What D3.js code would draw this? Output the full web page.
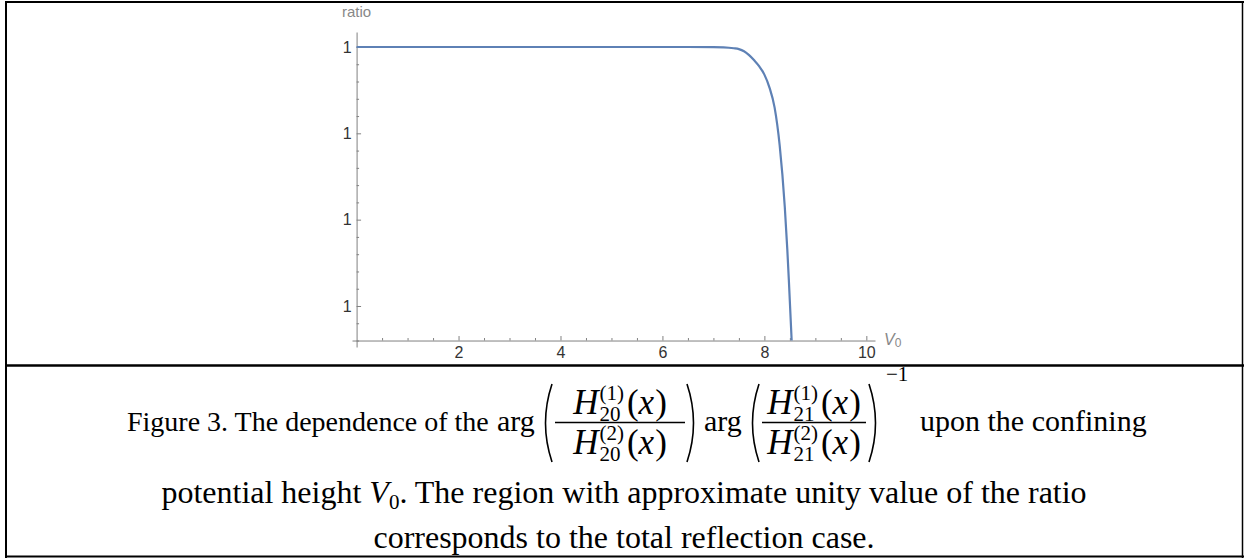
<!DOCTYPE html>
<html><head><meta charset="utf-8">
<script src="https://cdn.jsdelivr.net/npm/d3@7"></script>
<style>body{margin:0;background:#fff} svg{display:block}</style>
</head><body><svg id="c" width="1244" height="558"></svg>
<script>
// ---- data ----
const v0Values    = [0, 1, 2, 3, 4, 5, 6, 6.5, 7.0, 7.2, 7.4, 7.5, 7.6, 7.7, 7.8, 7.9, 8.0, 8.1, 8.2, 8.3, 8.4, 8.45, 8.48, 8.535];
const ratioValues = [1, 1, 1, 1, 1, 1, 1, 1, 0.9999998, 0.9999992, 0.999997, 0.999995, 0.99999, 0.999981, 0.999969, 0.999955, 0.999936, 0.999906, 0.99986, 0.999772, 0.99963, 0.99953, 0.99946, 0.99932];
const xTickValues = [2, 4, 6, 8, 10];
const xTickLabels = ["2", "4", "6", "8", "10"];
const yTickValues = [1, 0.9998, 0.9996, 0.9994];
const yTickLabels = ["1", "1", "1", "1"];
const xAxisRange  = [-0.09, 10.17];
const yAxisRange  = [0.999305, 1.0000347];
const yAxisCross  = 0.99932;
const axisLabelY  = "ratio";
const captionLine1a = "Figure 3. The dependence of the";
const captionLine1b = "upon the confining";
const captionLine2 = "potential height ";
const captionLine2b = ". The region with approximate unity value of the ratio";
const captionLine3 = "corresponds to the total reflection case.";

const svg = d3.select("#c");

// ---- frame (table borders) ----
svg.append("line").attr("x1",5).attr("x2",1244).attr("y1",2).attr("y2",2).attr("stroke","#000").attr("stroke-width",2.2);
svg.append("line").attr("x1",6).attr("x2",6).attr("y1",1).attr("y2",558).attr("stroke","#000").attr("stroke-width",2);
svg.append("line").attr("x1",1242.5).attr("x2",1242.5).attr("y1",1).attr("y2",558).attr("stroke","#000").attr("stroke-width",1.5);
svg.append("line").attr("x1",5).attr("x2",1244).attr("y1",365.5).attr("y2",365.5).attr("stroke","#000").attr("stroke-width",2.5);
svg.append("line").attr("x1",5).attr("x2",1244).attr("y1",556.5).attr("y2",556.5).attr("stroke","#000").attr("stroke-width",2.2);

// ---- scales ----
const x = d3.scaleLinear().domain(xAxisRange).range([352, 875]);
const y = d3.scaleLinear().domain(yAxisRange).range([347, 32]);
const axisColor = "#808080";
const sans = "'Liberation Sans', Arial, sans-serif";

// x axis
const gx = svg.append("g").attr("transform", `translate(0,${y(yAxisCross)})`);
gx.call(d3.axisBottom(x).tickValues(d3.range(0.5, 10.01, 0.5).filter(v => v % 2 !== 0)).tickSize(-2.5).tickSizeOuter(0).tickFormat(""));
gx.call(g => g.selectAll(".domain").attr("stroke", axisColor));
const gx2 = svg.append("g").attr("transform", `translate(0,${y(yAxisCross)})`);
gx2.call(d3.axisBottom(x).tickValues(xTickValues).tickSize(-4.5).tickSizeOuter(0).tickPadding(8)
  .tickFormat((d,i) => xTickLabels[i]));
gx2.select(".domain").remove();
gx2.selectAll("text").attr("fill","#333").style("font-family", sans).style("font-size","16px").attr("dy","0.71em").attr("y",6);

// y axis
const gy = svg.append("g").attr("transform", `translate(${x(0)},0)`);
const yMinor = d3.range(0, 20).map(i => 1 - i * 0.00004).filter(v => v >= yAxisCross - 1e-9 && !yTickValues.some(t => Math.abs(t - v) < 1e-9));
gy.call(d3.axisLeft(y).tickValues(yMinor).tickSize(-2.5).tickSizeOuter(0).tickFormat(""));
gy.select(".domain").attr("stroke", axisColor);
const gy2 = svg.append("g").attr("transform", `translate(${x(0)},0)`);
gy2.call(d3.axisLeft(y).tickValues(yTickValues).tickSize(-4.5).tickSizeOuter(0).tickPadding(5)
  .tickFormat((d,i) => yTickLabels[i]));
gy2.select(".domain").remove();
svg.selectAll(".tick line").attr("stroke", axisColor);
gy2.selectAll("text").attr("fill","#333").style("font-family", sans).style("font-size","16px").attr("x",-5);

// axis labels
svg.append("text").attr("x", x(0)).attr("y", 17).attr("text-anchor","middle").attr("fill","#888")
  .style("font-family", sans).style("font-size","15px").text(axisLabelY);
const vl = svg.append("text").attr("x", 884).attr("y", 345).attr("fill","#888")
  .style("font-family", sans).style("font-size","16px");
vl.append("tspan").style("font-style","italic").text("V");
vl.append("tspan").attr("dy", 2).style("font-size","12px").text("0");

// curve
const pts = v0Values.map((v,i) => [v, ratioValues[i]]);
svg.append("path").datum(pts)
  .attr("d", d3.line().x(d => x(d[0])).y(d => y(d[1])).curve(d3.curveMonotoneX))
  .attr("fill","none").attr("stroke","#5E81B5").attr("stroke-width",2.2);

// ---- caption ----
const serif = "'Liberation Serif', 'Times New Roman', serif";
const FS = 32, TS = 28, MS = 35, SS = 21;
const cap = svg.append("g").style("font-family", serif).attr("fill","#000");

function txt(g, str, x0, y0, size, italic) {
  const t = g.append("text").attr("x", x0).attr("y", y0).style("font-size", size + "px")
    .style("font-style", italic ? "italic" : "normal").text(str);
  return t.node().getComputedTextLength();
}
function paren(g, x0, left) {
  const top = 384, bot = 462, w = 12;
  const xa = left ? x0 + w : x0, xb = left ? x0 - 1 : x0 + w + 1;
  g.append("path").attr("d", `M${xa},${top} Q${xb},${(top+bot)/2} ${xa},${bot}`)
    .attr("fill","none").attr("stroke","#000").attr("stroke-width",1.6);
}
function hank(g, base, sup, k) {
  let cx = 0;
  cx += txt(g, "H", cx, base, MS, true) + 1;
  const w1 = txt(g, "(" + sup + ")", cx, base - 14, SS, false);
  const w2 = txt(g, "2" + k, cx, base + 7, SS, false);
  cx += Math.max(w1, w2) + 3;
  cx += txt(g, "(", cx, base, MS, false);
  cx += txt(g, "x", cx, base, MS, true) + 1;
  cx += txt(g, ")", cx, base, MS, false);
  return cx;
}
function frac(g, x0, x1, k) {
  const gn = g.append("g"), gd = g.append("g");
  const wn = hank(gn, 414, "1", k);
  const wd = hank(gd, 454, "2", k);
  gn.attr("transform", `translate(${(x0 + x1 - wn)/2},0)`);
  gd.attr("transform", `translate(${(x0 + x1 - wd)/2},0)`);
  g.append("line").attr("x1", x0).attr("x2", x1).attr("y1", 422.5).attr("y2", 422.5).attr("stroke","#000").attr("stroke-width",1.4);
}
const base1 = 431;
txt(cap, captionLine1a, 127, base1, TS, false);
txt(cap, "arg", 497, base1, 30, false);
paren(cap, 540, true);
frac(cap, 555, 685, "0");
paren(cap, 687, false);
txt(cap, "arg", 704, base1, 30, false);
paren(cap, 747, true);
frac(cap, 762, 866, "1");
paren(cap, 869, false);
txt(cap, "\u22121", 886, 381, SS, false);
txt(cap, captionLine1b, 920, base1, 30, false);

const l2 = svg.append("text").attr("x", 624).attr("y", 503).attr("text-anchor","middle")
  .style("font-family", serif).style("font-size", FS + "px");
l2.append("tspan").text(captionLine2);
l2.append("tspan").style("font-style","italic").text("V");
l2.append("tspan").attr("dy", 6).style("font-size", SS + "px").text("0");
l2.append("tspan").attr("dy", -6).text(captionLine2b);
svg.append("text").attr("x", 624).attr("y", 548).attr("text-anchor","middle")
  .style("font-family", serif).style("font-size", FS + "px").text(captionLine3);
</script></body></html>
